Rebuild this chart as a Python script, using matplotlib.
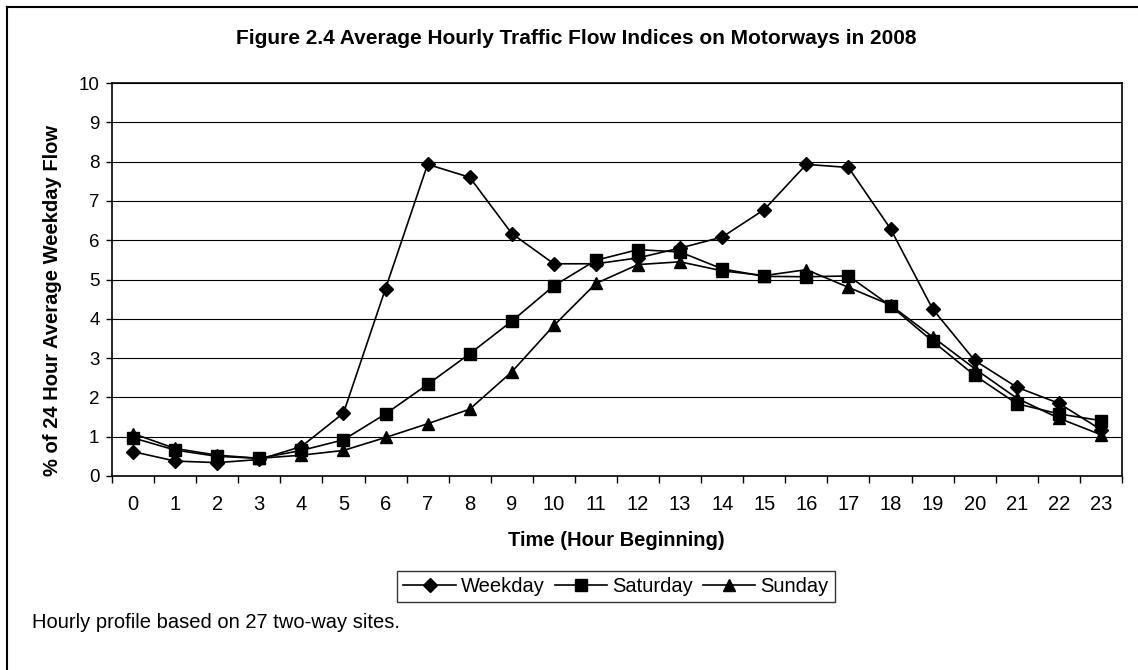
import matplotlib
matplotlib.use("Agg")
import matplotlib.pyplot as plt
from matplotlib.lines import Line2D

plt.rcParams['font.family'] = ['Liberation Sans', 'DejaVu Sans']

hours = list(range(24))
hour_labels = [str(h) for h in hours]
weekday = [0.62, 0.38, 0.34, 0.42, 0.75, 1.60, 4.77, 7.93, 7.60, 6.17, 5.40, 5.40,
           5.55, 5.80, 6.08, 6.78, 7.93, 7.85, 6.29, 4.25, 2.94, 2.26, 1.85, 1.18]
saturday = [0.97, 0.66, 0.50, 0.45, 0.65, 0.92, 1.58, 2.33, 3.11, 3.94, 4.84, 5.49,
            5.76, 5.70, 5.27, 5.08, 5.07, 5.09, 4.33, 3.43, 2.56, 1.84, 1.58, 1.41]
sunday = [1.08, 0.70, 0.53, 0.45, 0.53, 0.65, 0.98, 1.33, 1.70, 2.65, 3.83, 4.90,
          5.38, 5.45, 5.22, 5.10, 5.25, 4.80, 4.35, 3.54, 2.73, 1.98, 1.47, 1.05]

W, H = 1138, 670
fig = plt.figure(figsize=(W / 100, H / 100), dpi=100)
ax = fig.add_axes([112 / W, 1 - 476 / H, 1010 / W, 393 / H])

ax.plot(hours, weekday, color='black', lw=1.2, marker='D', ms=7, label='Weekday')
ax.plot(hours, saturday, color='black', lw=1.2, marker='s', ms=8.5, label='Saturday')
ax.plot(hours, sunday, color='black', lw=1.2, marker='^', ms=9, label='Sunday')

ax.set_xlim(-0.5, 23.5)
ax.set_ylim(0, 10)
ax.set_yticks(range(0, 11))
ax.set_xticks(hours)
ax.set_xticklabels(hour_labels)
ax.set_xticks([h - 0.5 for h in range(25)], minor=True)
ax.tick_params(axis='x', which='major', length=0, pad=14, labelsize=14.5)
ax.tick_params(axis='x', which='minor', length=5, width=1, direction='out')
ax.tick_params(axis='y', length=4, width=1, direction='out', labelsize=13.5, pad=5)
ax.grid(axis='y', color='black', lw=0.8)
ax.set_axisbelow(True)
for s in ax.spines.values():
    s.set_color('black')
    s.set_linewidth(1.2)

fig.text(616 / W, 1 - 540 / H, 'Time (Hour Beginning)', ha='center', va='center',
         fontsize=14.5, fontweight='bold')
fig.text(52 / W, 1 - 300 / H, '% of 24 Hour Average Weekday Flow', ha='center', va='center',
         rotation=90, fontsize=14.5, fontweight='bold')

fig.text(576 / W, 1 - 38 / H, 'Figure 2.4 Average Hourly Traffic Flow Indices on Motorways in 2008',
         ha='center', va='center', fontsize=15, fontweight='bold')

leg = ax.legend(loc='center', bbox_to_anchor=(616 / W, 1 - 586.5 / H), bbox_transform=fig.transFigure,
                ncol=3, fontsize=14.5, frameon=True, fancybox=False, edgecolor='black',
                handlelength=2.6, handletextpad=0.25, columnspacing=0.5, borderpad=0.3)
leg.get_frame().set_linewidth(1.0)

fig.text(32 / W, 1 - 623 / H, 'Hourly profile based on 27 two-way sites.', ha='left', va='center',
         fontsize=14.5)

fig.add_artist(Line2D([7 / W, 7 / W], [0, 1 - 7 / H], transform=fig.transFigure, color='black', lw=1.5))
fig.add_artist(Line2D([7 / W, 1], [1 - 7 / H, 1 - 7 / H], transform=fig.transFigure, color='black', lw=1.5))

fig.savefig('out.png', dpi=100)
